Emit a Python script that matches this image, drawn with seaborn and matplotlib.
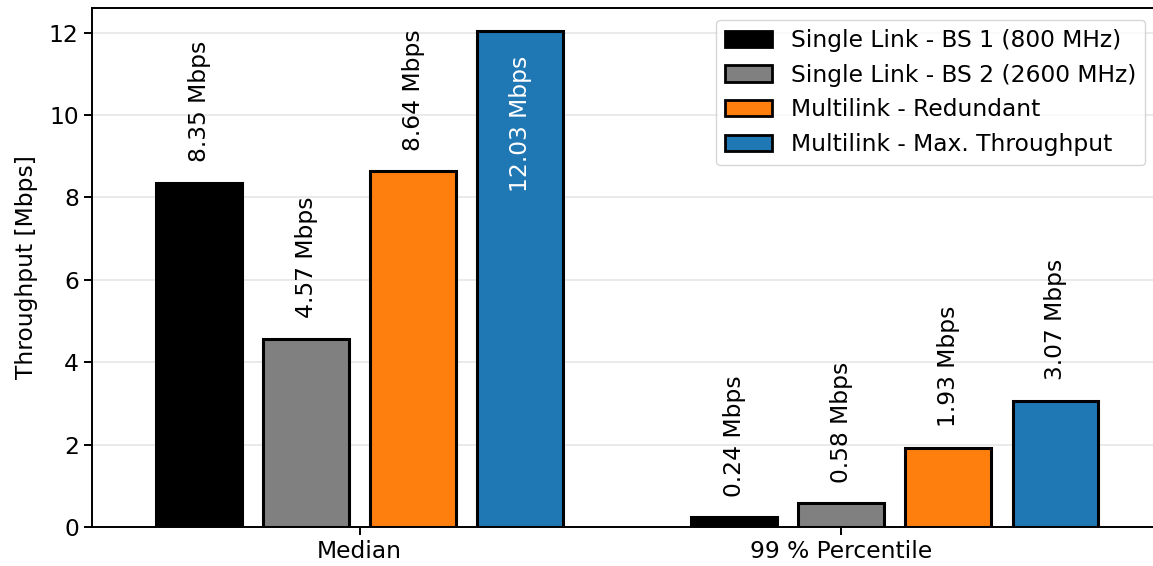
import matplotlib
matplotlib.use("Agg")
import matplotlib.pyplot as plt
import seaborn as sns
import pandas as pd

# Throughput values per configuration
groups = ["Median", "99 % Percentile"]
series = [
    "Single Link - BS 1 (800 MHz)",
    "Single Link - BS 2 (2600 MHz)",
    "Multilink - Redundant",
    "Multilink - Max. Throughput",
]
median_vals = [8.35, 4.57, 8.64, 12.03]
pct99_vals = [0.24, 0.58, 1.93, 3.07]
colors = ["#000000", "#808080", "#ff7f0e", "#1f77b4"]

# Bar slots along the x axis (group of four, a gap, then the next group)
median_pos = [0, 1, 2, 3]
pct99_pos = [5, 6, 7, 8]
group_ticks = [1.5, 6]

rows = []
for s, v, p in zip(series, median_vals, median_pos):
    rows.append({"pos": p, "value": v, "series": s})
for s, v, p in zip(series, pct99_vals, pct99_pos):
    rows.append({"pos": p, "value": v, "series": s})
df = pd.DataFrame(rows)

sns.set_style("white")
plt.rcParams["font.family"] = ["DejaVu Sans"]
for key in ["text.color", "axes.labelcolor", "xtick.color", "ytick.color"]:
    plt.rcParams[key] = "black"
fs = 16.8

fig = plt.figure(figsize=(11.53, 5.66), dpi=100)
ax = fig.add_axes([92 / 1153, 1 - 527 / 566, (1157 - 92) / 1153, (527 - 8) / 566])

sns.barplot(
    data=df, x="pos", y="value", hue="series", hue_order=series,
    palette=colors, saturation=1, native_scale=True, dodge=False, width=0.8,
    edgecolor="black", linewidth=2.2, ax=ax, legend=True,
)

ymax = 12.6
ax.set_ylim(0, ymax)
ax.set_xlim(-1.0, 8.95)
ax.set_yticks(range(0, 13, 2))
ax.set_xticks(group_ticks)
ax.set_xticklabels(groups, fontsize=fs)
ax.tick_params(axis="y", labelsize=fs, direction="out", length=6, width=1.4, left=True)
ax.tick_params(axis="x", direction="out", length=6, width=1.4, bottom=True)
ax.set_xlabel("")
ax.set_ylabel("Throughput [Mbps]", fontsize=fs, labelpad=8)
ax.yaxis.grid(True, color="#e6e6e6", linewidth=1.2)
ax.set_axisbelow(True)
for side in ["left", "bottom", "top"]:
    ax.spines[side].set_color("black")
    ax.spines[side].set_linewidth(1.4)
ax.spines["right"].set_visible(False)

# Value labels: above the bar, or inside it when there is no room above
for p, v in zip(median_pos + pct99_pos, median_vals + pct99_vals):
    txt = f"{v:.2f} Mbps"
    if v > 10:
        ax.text(p, v - 0.6, txt, rotation=90, ha="center", va="top",
                color="white", fontsize=fs)
    else:
        ax.text(p, v + 0.5, txt, rotation=90, ha="center", va="bottom",
                color="black", fontsize=fs)

leg = ax.legend(loc="upper right", fontsize=fs, frameon=True, title=None,
                borderaxespad=0.5)
leg.get_frame().set_edgecolor("#cccccc")
for h in leg.legend_handles:
    h.set_edgecolor("black")
    h.set_linewidth(2)

fig.savefig("out.png", dpi=100)
